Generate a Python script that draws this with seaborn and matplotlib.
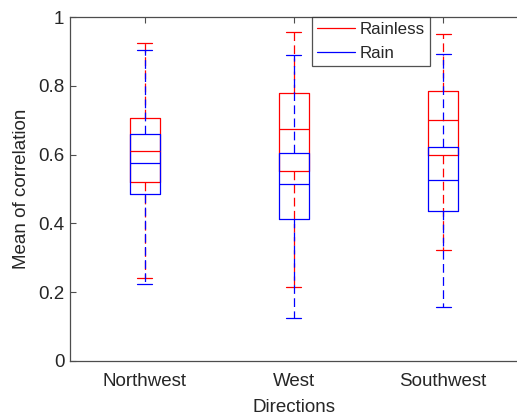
import pandas as pd
import numpy as np
import matplotlib
matplotlib.use("Agg")
import matplotlib.pyplot as plt
import seaborn as sns
from matplotlib.lines import Line2D

# box statistics (whisker ends, quartiles, median)
directions = ['Northwest', 'West', 'Southwest']
conditions = ['Rainless', 'Rain']

rainless_min = [0.240, 0.214, 0.324]
rainless_q1 = [0.519, 0.552, 0.600]
rainless_median = [0.611, 0.673, 0.702]
rainless_q3 = [0.705, 0.778, 0.784]
rainless_max = [0.924, 0.955, 0.951]

rain_min = [0.223, 0.126, 0.158]
rain_q1 = [0.485, 0.413, 0.436]
rain_median = [0.575, 0.515, 0.527]
rain_q3 = [0.659, 0.605, 0.622]
rain_max = [0.905, 0.890, 0.893]

ytick_values = [0, 0.2, 0.4, 0.6, 0.8, 1]
ytick_labels = ['0', '0.2', '0.4', '0.6', '0.8', '1']

# five values per box -> with whis=(0, 100) seaborn reproduces the quartiles exactly
series = {
    'Rainless': [rainless_min, rainless_q1, rainless_median, rainless_q3, rainless_max],
    'Rain': [rain_min, rain_q1, rain_median, rain_q3, rain_max],
}
rows = []
for cond in conditions:
    for i, d in enumerate(directions):
        for stat in series[cond]:
            rows.append({'Direction': d, 'Condition': cond, 'value': stat[i]})
df = pd.DataFrame(rows)

sns.set_style('white')
plt.rcParams['font.family'] = ['Liberation Sans', 'DejaVu Sans']
text_color = '#262626'
axis_color = '#4d4d4d'

fig = plt.figure(figsize=(5.17, 4.20), dpi=100)
ax = fig.add_axes([0.1354, 0.1405, 0.866, 0.819])

palette = {'Rainless': '#ff0000', 'Rain': '#0000ff'}
dash = (0, (7, 3.5))
sns.boxplot(data=df, x='Direction', y='value', hue='Condition',
            order=directions, hue_order=conditions, palette=palette,
            dodge=False, fill=False, width=0.2, whis=(0, 100),
            linewidth=0.9, showfliers=False, legend=False,
            whiskerprops=dict(linestyle=dash), ax=ax)

ax.set_xlim(-0.5, 2.5)
ax.set_ylim(0, 1)
ax.set_yticks(ytick_values)
ax.set_yticklabels(ytick_labels)

for side in ['left', 'bottom', 'top']:
    ax.spines[side].set_visible(True)
    ax.spines[side].set_color(axis_color)
    ax.spines[side].set_linewidth(0.9)
ax.spines['right'].set_visible(False)

ax.tick_params(axis='both', direction='in', length=4, width=0.8,
               color=axis_color, labelcolor=text_color, labelsize=13.5)
ax.tick_params(axis='x', top=True, pad=9)
ax.tick_params(axis='y', left=True, pad=4)

ax.set_xlabel('Directions', fontsize=13.5, color=text_color, labelpad=6)
ax.set_ylabel('Mean of correlation', fontsize=13.5, color=text_color, labelpad=6)

handles = [Line2D([0], [0], color=palette[c], lw=0.9) for c in conditions]
leg = ax.legend(handles, conditions, loc='upper left', bbox_to_anchor=(0.541, 1.0),
                fontsize=12.2, frameon=True, fancybox=False, handlelength=2.2,
                handletextpad=0.3, borderpad=0.3, labelspacing=0.55,
                borderaxespad=0)
leg.get_frame().set_edgecolor('#262626')
leg.get_frame().set_linewidth(0.9)
for t in leg.get_texts():
    t.set_color(text_color)

fig.savefig('out.png', dpi=100)
